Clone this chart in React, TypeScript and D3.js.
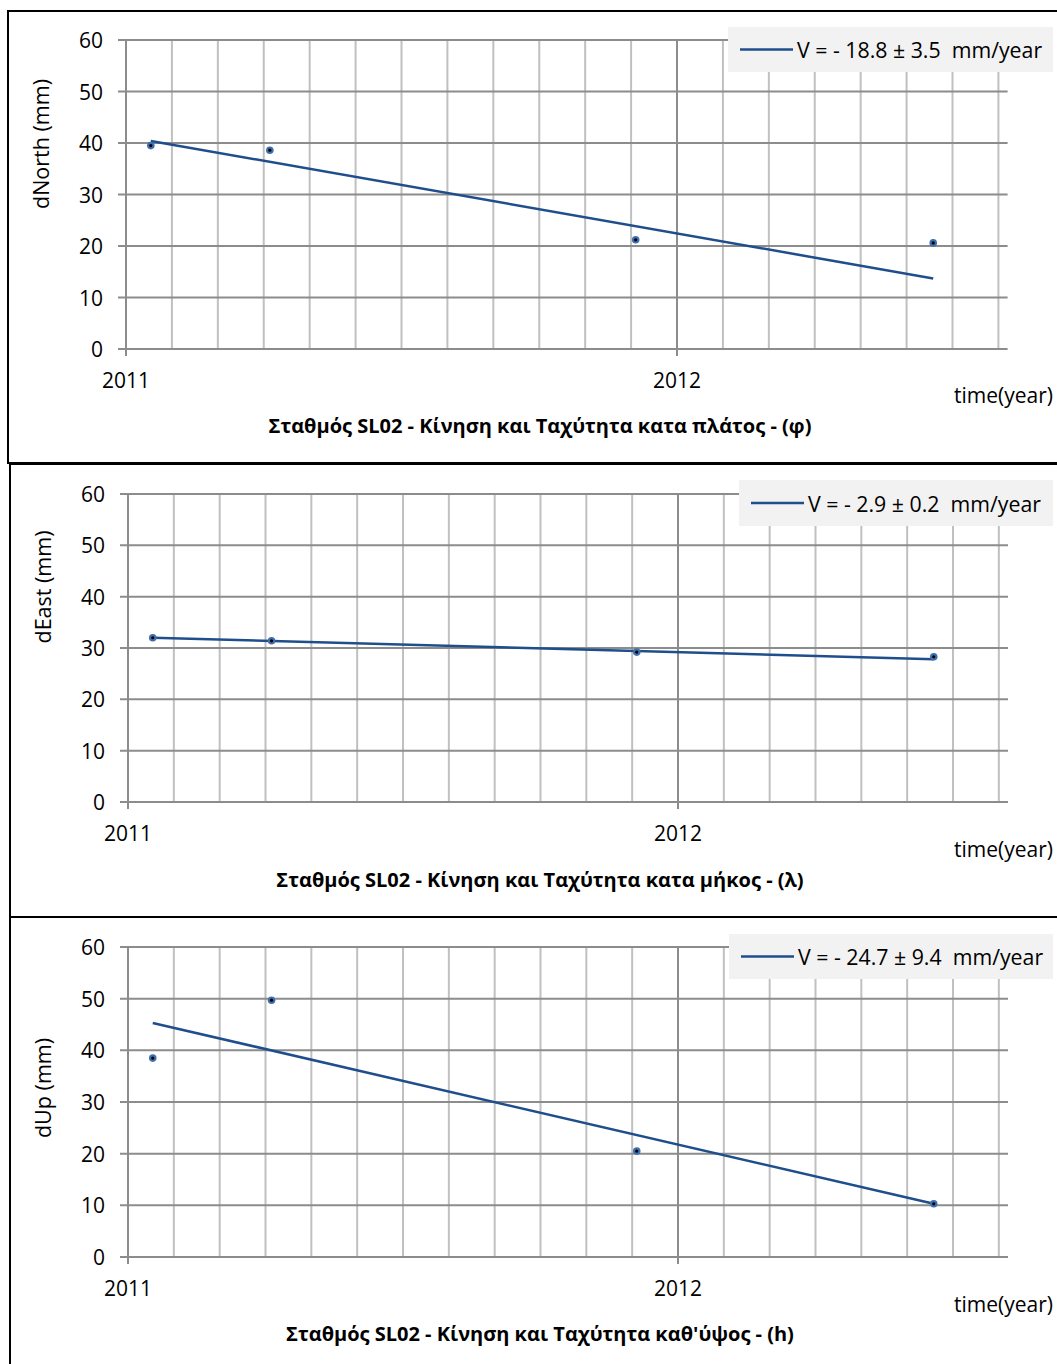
import React from "react";
import * as d3 from "d3";

// ---- data ----
const dates = [2011.045, 2011.261, 2011.925, 2012.465];
const dNorth = [39.5, 38.6, 21.2, 20.6];
const dEast = [32.0, 31.4, 29.2, 28.3];
const dUp = [38.5, 49.7, 20.5, 10.3];
const northTrend = [40.4, 13.7];
const eastTrend = [32.0, 27.8];
const upTrend = [45.3, 10.3];
const yTicks = [0, 10, 20, 30, 40, 50, 60];
const xYearTicks = [2011, 2012];
const xDomain = [2011, 2012.6];
const yDomain = [0, 60];
const legendLabels = [
  "V = - 18.8 ± 3.5  mm/year",
  "V = - 2.9 ± 0.2  mm/year",
  "V = - 24.7 ± 9.4  mm/year",
];
const yTitles = ["dNorth (mm)", "dEast (mm)", "dUp (mm)"];
const chartTitles = [
  "Σταθμός SL02 - Κίνηση και Ταχύτητα κατα πλάτος - (φ)",
  "Σταθμός SL02 - Κίνηση και Ταχύτητα κατα μήκος - (λ)",
  "Σταθμός SL02 - Κίνηση και Ταχύτητα καθ'ύψος - (h)",
];
const xAxisTitle = "time(year)";

// ---- layout ----
const W = 1057;
const H = 1364;
const FONT = "'Open Sans', 'Noto Sans', sans-serif";
const LINE_COLOR = "#1f4e8c";

type PanelLayout = {
  frameX: number;
  frameY: number;
  frameH: number;
  x0: number;
  x1: number;
  yTop: number;
  yBottom: number;
  tickLabelY: number;
  timeY: number;
  titleY: number;
  yTitleX: number;
  yTitleY: number;
  legX: number;
  legY: number;
  legH: number;
};

const layouts: PanelLayout[] = [
  { frameX: 8, frameY: 11, frameH: 452, x0: 126, x1: 677, yTop: 40, yBottom: 349, tickLabelY: 380, timeY: 395, titleY: 425, yTitleX: 40, yTitleY: 144, legX: 728, legY: 27, legH: 45 },
  { frameX: 10, frameY: 464, frameH: 453, x0: 128, x1: 678, yTop: 494, yBottom: 802, tickLabelY: 833, timeY: 849, titleY: 879, yTitleX: 42, yTitleY: 587, legX: 739, legY: 480, legH: 46 },
  { frameX: 10, frameY: 917, frameH: 500, x0: 128, x1: 678, yTop: 947, yBottom: 1257, tickLabelY: 1288, timeY: 1304, titleY: 1333, yTitleX: 42, yTitleY: 1088, legX: 729, legY: 934, legH: 45 },
];

const seriesList = [dNorth, dEast, dUp];
const trends = [northTrend, eastTrend, upTrend];

function Panel({ idx }: { idx: number }) {
  const L = layouts[idx];
  const values = seriesList[idx];
  const trend = trends[idx];
  const x = d3.scaleLinear().domain([2011, 2012]).range([L.x0, L.x1]);
  const y = d3.scaleLinear().domain(yDomain).range([L.yBottom, L.yTop]);
  const xEnd = x(xDomain[1]);
  const months = d3
    .range(1, 24)
    .map((i) => 2011 + i / 12)
    .filter((m) => m <= xDomain[1] + 1e-9 && Math.abs(m - 2012) > 1e-6);
  const trendLine = d3
    .line<[number, number]>()
    .x((d) => x(d[0]))
    .y((d) => y(d[1]));
  const tPts: [number, number][] = [
    [dates[0], trend[0]],
    [dates[dates.length - 1], trend[1]],
  ];

  return (
    <g>
      {/* frame */}
      <rect x={L.frameX} y={L.frameY} width={W + 20 - L.frameX} height={L.frameH} fill="#fff" stroke="#000" strokeWidth={2} />
      {/* minor vertical gridlines */}
      {months.map((m, i) => (
        <line key={"v" + i} x1={x(m)} x2={x(m)} y1={y(60)} y2={y(0)} stroke="#c0c0c0" strokeWidth={2} />
      ))}
      {/* horizontal gridlines */}
      {yTicks.filter((t) => t > 0).map((t) => (
        <line key={"h" + t} x1={L.x0 - 8} x2={xEnd} y1={y(t)} y2={y(t)} stroke="#8c8c8c" strokeWidth={2} />
      ))}
      {/* major vertical gridline 2012 */}
      <line x1={x(2012)} x2={x(2012)} y1={y(60)} y2={y(0) + 7} stroke="#8c8c8c" strokeWidth={2} />
      {/* axes */}
      <line x1={L.x0 - 8} x2={xEnd} y1={y(0)} y2={y(0)} stroke="#8c8c8c" strokeWidth={2} />
      <line x1={L.x0} x2={L.x0} y1={y(60)} y2={y(0) + 7} stroke="#8c8c8c" strokeWidth={2} />
      {/* y tick labels */}
      {yTicks.map((t) => (
        <text key={"yl" + t} x={L.x0 - 23} y={y(t)} textAnchor="end" dominantBaseline="central" fontSize={21} fontFamily={FONT} fill="#000">
          {t}
        </text>
      ))}
      {/* x tick labels */}
      {xYearTicks.map((t) => (
        <text key={"xl" + t} x={x(t)} y={L.tickLabelY} textAnchor="middle" dominantBaseline="central" fontSize={21} fontFamily={FONT} fill="#000">
          {t}
        </text>
      ))}
      {/* trend line */}
      <path d={trendLine(tPts) || ""} fill="none" stroke={LINE_COLOR} strokeWidth={2.5} />
      {/* data points */}
      {values.map((v, i) => (
        <g key={"p" + i}>
          <circle cx={x(dates[i])} cy={y(v)} r={3.8} fill="#3f6fae" />
          <circle cx={x(dates[i])} cy={y(v)} r={1.6} fill="#000" />
        </g>
      ))}
      {/* legend */}
      <rect x={L.legX} y={L.legY} width={1053 - L.legX} height={L.legH} fill="#f2f2f2" />
      <line x1={L.legX + 12} x2={L.legX + 65} y1={L.legY + L.legH / 2} y2={L.legY + L.legH / 2} stroke={LINE_COLOR} strokeWidth={2.5} />
      <text x={L.legX + 69} y={L.legY + L.legH / 2} dominantBaseline="central" fontSize={21.3} fontFamily={FONT} fill="#000" style={{ whiteSpace: "pre" }}>
        {legendLabels[idx]}
      </text>
      {/* axis titles */}
      <text x={1053} y={L.timeY} textAnchor="end" dominantBaseline="central" fontSize={21} fontFamily={FONT} fill="#000">
        {xAxisTitle}
      </text>
      <text transform={`translate(${L.yTitleX},${L.yTitleY}) rotate(-90)`} textAnchor="middle" dominantBaseline="central" fontSize={21.5} fontFamily={FONT} fill="#000">
        {yTitles[idx]}
      </text>
      <text x={540} y={L.titleY} textAnchor="middle" dominantBaseline="central" fontSize={20} fontWeight="bold" fontFamily={FONT} fill="#000">
        {chartTitles[idx]}
      </text>
    </g>
  );
}

export default function App() {
  return (
    <svg width={W} height={H} style={{ position: "absolute", left: 0, top: 0, background: "#fff" }}>
      <rect x={0} y={0} width={W} height={H} fill="#fff" />
      {layouts.map((_, i) => (
        <Panel key={i} idx={i} />
      ))}
    </svg>
  );
}
